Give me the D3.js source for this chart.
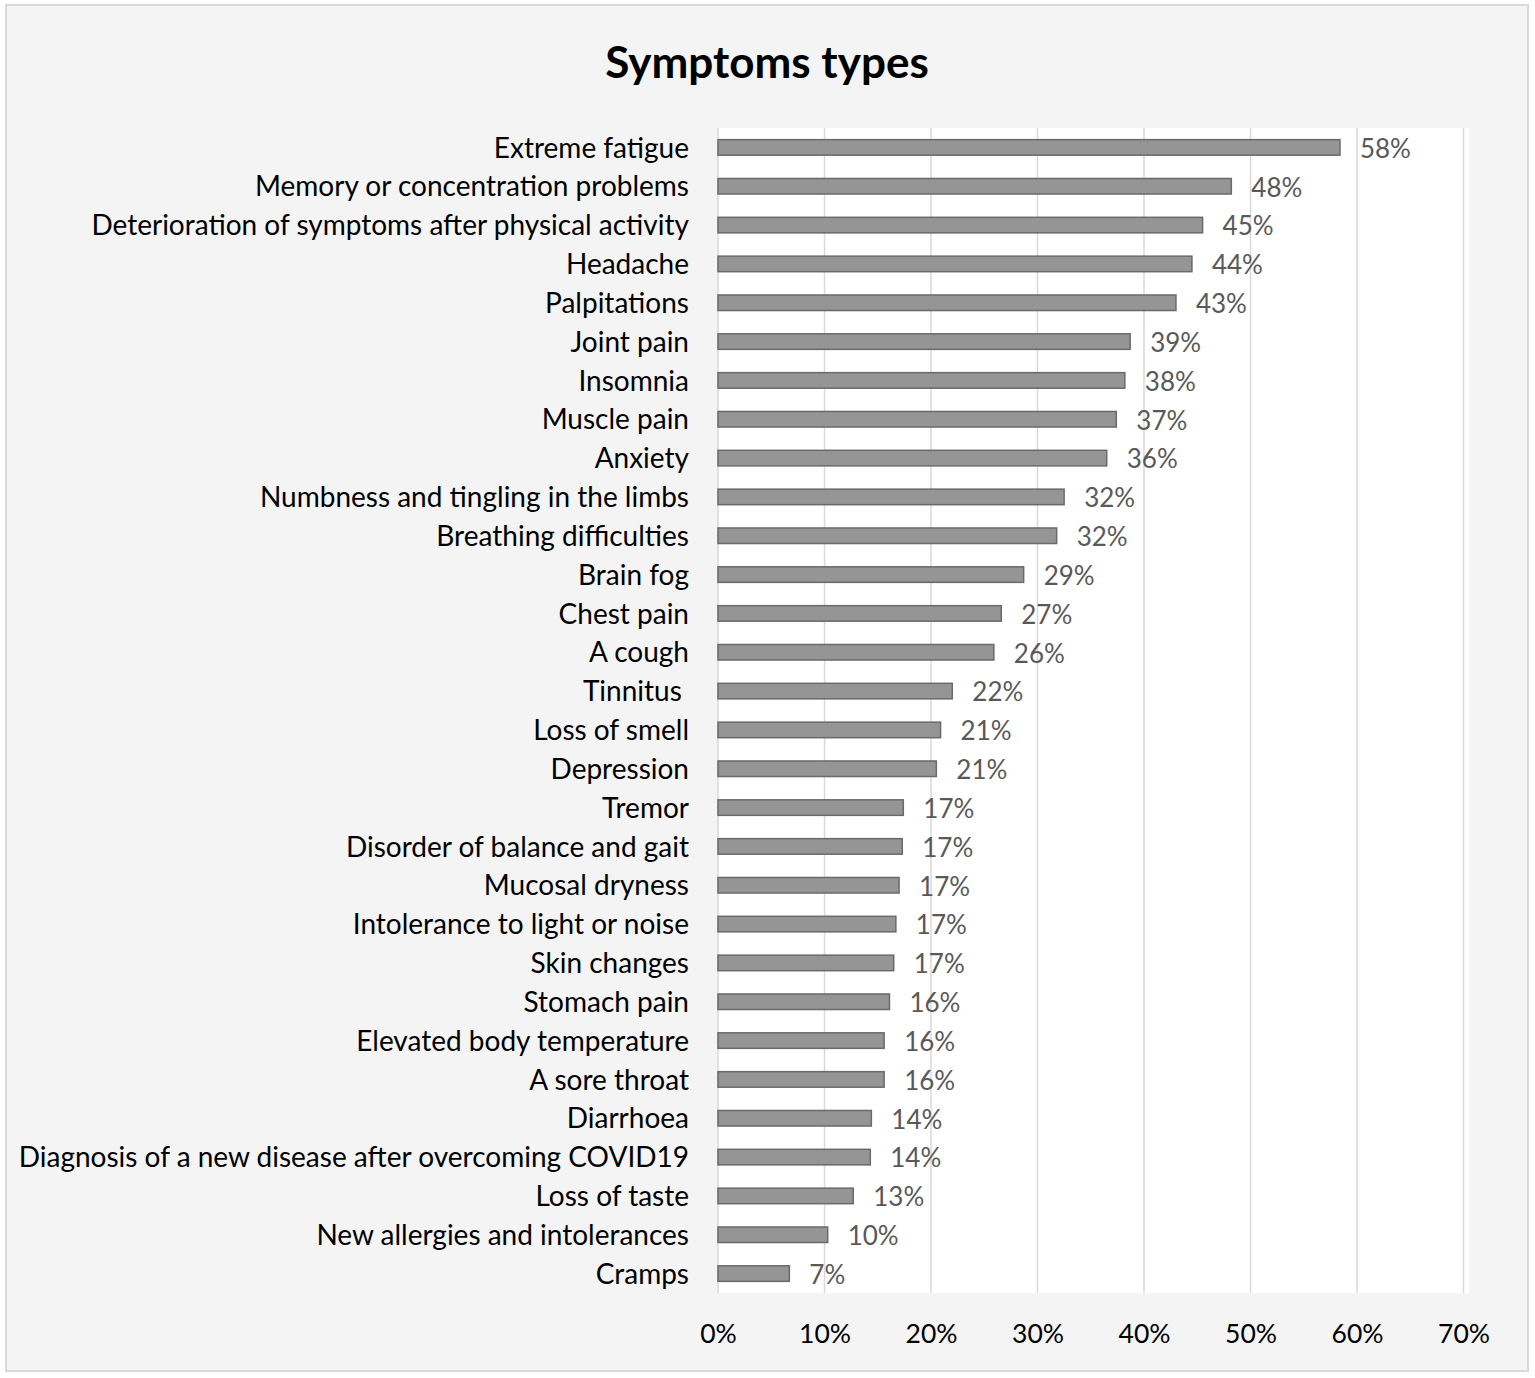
<!DOCTYPE html>
<html><head><meta charset="utf-8">
<script src="https://cdn.jsdelivr.net/npm/d3@7"></script>
<style>body{margin:0;background:#fff;} svg{display:block;}</style>
</head><body>
<script>
const categories = ["Extreme fatigue","Memory or concentration problems","Deterioration of symptoms after physical activity","Headache","Palpitations","Joint pain","Insomnia","Muscle pain","Anxiety","Numbness and tingling in the limbs","Breathing difficulties","Brain fog","Chest pain","A cough","Tinnitus ","Loss of smell","Depression","Tremor","Disorder of balance and gait","Mucosal dryness","Intolerance to light or noise","Skin changes","Stomach pain","Elevated body temperature","A sore throat","Diarrhoea","Diagnosis of a new disease after overcoming COVID19","Loss of taste","New allergies and intolerances","Cramps"];
const values = [58.4,48.2,45.5,44.5,43.0,38.7,38.2,37.4,36.5,32.5,31.8,28.7,26.6,25.9,22.0,20.9,20.5,17.4,17.3,17.0,16.7,16.5,16.1,15.6,15.6,14.4,14.3,12.7,10.3,6.7];
const valueLabels = ["58%","48%","45%","44%","43%","39%","38%","37%","36%","32%","32%","29%","27%","26%","22%","21%","21%","17%","17%","17%","17%","17%","16%","16%","16%","14%","14%","13%","10%","7%"];
const tickValues = [0,10,20,30,40,50,60,70];
const title = "Symptoms types";

const W = 1535, H = 1378;
const FONT = "Lato, 'Open Sans', sans-serif";
const svg = d3.select("body").append("svg").attr("width", W).attr("height", H);

svg.append("rect").attr("x",6).attr("y",5).attr("width",1522).attr("height",1366)
  .attr("fill","#f4f4f4").attr("stroke","#d9d9d9").attr("stroke-width",2);

const plot = {left:718, right:1469, top:128, bottom:1293};
svg.append("rect").attr("x",plot.left).attr("y",plot.top)
  .attr("width",plot.right-plot.left).attr("height",plot.bottom-plot.top).attr("fill","#fff");

const x = d3.scaleLinear().domain([0,70]).range([718,1463.5]);
const y = d3.scaleBand().domain(categories).range([plot.top,plot.bottom]).paddingInner(0.6).paddingOuter(0.3);

// gridlines
svg.append("g").selectAll("line").data(tickValues).join("line")
  .attr("x1",d=>x(d)).attr("x2",d=>x(d)).attr("y1",plot.top).attr("y2",plot.bottom)
  .attr("stroke","#d9d9d9").attr("stroke-width",1.5);

// bars
svg.append("g").selectAll("rect").data(categories).join("rect")
  .attr("x",x(0)).attr("y",d=>y(d))
  .attr("width",(d,i)=>x(values[i])-x(0)).attr("height",y.bandwidth())
  .attr("fill","#959595").attr("stroke","#6a6a6a").attr("stroke-width",1.5);

// value labels
svg.append("g").selectAll("text").data(categories).join("text")
  .attr("x",(d,i)=>x(values[i])+20).attr("y",d=>y(d)+y.bandwidth()/2+1)
  .attr("dy","0.36em").attr("font-family",FONT).attr("font-size",26)
  .attr("fill","#595959").text((d,i)=>valueLabels[i]);

// category axis
const yAxis = d3.axisLeft(y).tickSize(0).tickPadding(29);
const gy = svg.append("g").attr("transform",`translate(${plot.left},0)`).call(yAxis);
gy.select(".domain").remove();
gy.selectAll("text").attr("font-family",FONT).attr("font-size",28).attr("fill","#000")
  .style("white-space","pre").attr("dy","0.36em");

// x axis
const xAxis = d3.axisBottom(x).tickValues(tickValues).tickSize(0).tickPadding(0).tickFormat(d=>d+"%");
const gx = svg.append("g").attr("transform",`translate(0,1333)`).call(xAxis);
gx.select(".domain").remove();
gx.selectAll("text").attr("font-family",FONT).attr("font-size",26.5).attr("fill","#000").attr("dy","0.36em");

svg.append("text").attr("x",767).attr("y",62).attr("text-anchor","middle").attr("dy","0.36em")
  .attr("font-family",FONT).attr("font-weight","bold").attr("font-size",44).attr("fill","#000").text(title);
</script>
</body></html>
